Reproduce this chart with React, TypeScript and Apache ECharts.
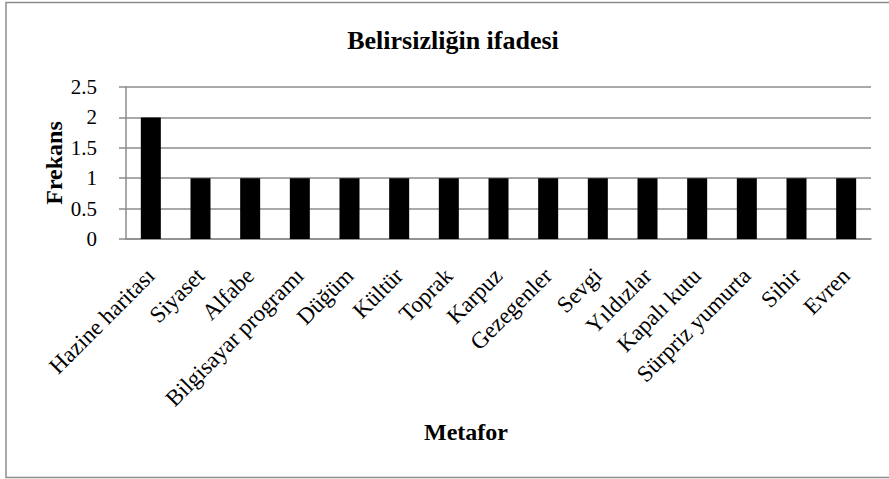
import React, { useEffect, useRef } from "react";
import * as echarts from "echarts";

const categories = [
  "Hazine haritası",
  "Siyaset",
  "Alfabe",
  "Bilgisayar programı",
  "Düğüm",
  "Kültür",
  "Toprak",
  "Karpuz",
  "Gezegenler",
  "Sevgi",
  "Yıldızlar",
  "Kapalı kutu",
  "Sürpriz yumurta",
  "Sihir",
  "Evren",
];
const frequencies = [2, 1, 1, 1, 1, 1, 1, 1, 1, 1, 1, 1, 1, 1, 1];
const chartTitle = "Belirsizliğin ifadesi";
const yAxisTitle = "Frekans";
const xAxisTitle = "Metafor";

const FONT = "Liberation Serif, Times New Roman, serif";

export default function App() {
  const ref = useRef<HTMLDivElement>(null);
  useEffect(() => {
    document.body.style.margin = "0";
    if (!ref.current) return;
    const chart = echarts.init(ref.current, null, { renderer: "svg" });
    chart.setOption({
      animation: false,
      backgroundColor: "#ffffff",
      textStyle: { fontFamily: FONT },
      grid: { left: 126, right: 18, top: 87, bottom: 240, containLabel: false },
      xAxis: {
        type: "category",
        data: categories,
        axisLine: { show: true, lineStyle: { color: "#8c8c8c", width: 1.5 } },
        axisTick: { show: false },
        axisLabel: {
          rotate: 45,
          interval: 0,
          margin: 33,
          color: "#000",
          fontFamily: FONT,
          fontSize: 23,
        },
      },
      yAxis: {
        type: "value",
        min: 0,
        max: 2.5,
        interval: 0.5,
        axisLine: { show: true, lineStyle: { color: "#8c8c8c", width: 1.5 } },
        axisTick: { show: true, length: 7, lineStyle: { color: "#8c8c8c", width: 1.5 } },
        splitLine: { show: true, lineStyle: { color: "#8c8c8c", width: 1.5 } },
        axisLabel: {
          margin: 29,
          color: "#000",
          fontFamily: FONT,
          fontSize: 21,
        },
      },
      series: [
        {
          type: "bar",
          data: frequencies,
          barWidth: 20,
          itemStyle: { color: "#000000" },
        },
      ],
      graphic: [
        {
          type: "rect",
          shape: { x: 6, y: 2.5, width: 890, height: 475 },
          style: { fill: "none", stroke: "#8c8c8c", lineWidth: 1.5 },
          silent: true,
        },
        {
          type: "text",
          x: 453,
          y: 40,
          style: {
            text: chartTitle,
            fill: "#000",
            fontFamily: FONT,
            fontWeight: "bold",
            fontSize: 26,
            textAlign: "center",
            textVerticalAlign: "middle",
          },
        },
        {
          type: "text",
          x: 54,
          y: 163,
          rotation: Math.PI / 2,
          style: {
            text: yAxisTitle,
            fill: "#000",
            fontFamily: FONT,
            fontWeight: "bold",
            fontSize: 24,
            textAlign: "center",
            textVerticalAlign: "middle",
          },
        },
        {
          type: "text",
          x: 466,
          y: 432,
          style: {
            text: xAxisTitle,
            fill: "#000",
            fontFamily: FONT,
            fontWeight: "bold",
            fontSize: 24,
            textAlign: "center",
            textVerticalAlign: "middle",
          },
        },
      ],
    });
    return () => chart.dispose();
  }, []);
  return <div ref={ref} style={{ width: 889, height: 479 }} />;
}
